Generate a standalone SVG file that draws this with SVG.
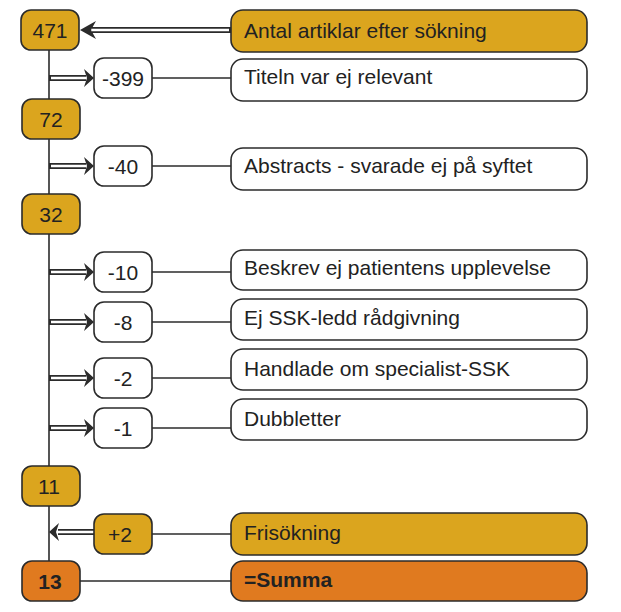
<svg xmlns="http://www.w3.org/2000/svg" width="621" height="612" viewBox="0 0 621 612">
<style>
.b{stroke:#2b2b2b;stroke-width:1.6}
.g{fill:#DBA51E}.o{fill:#E07A1F}.w{fill:#fff}
text{font-family:"Liberation Sans",Arial,sans-serif;font-size:21px;fill:#222}
.c{text-anchor:middle}
.l{stroke:#2b2b2b;stroke-width:1.6;fill:none}
.d1{stroke:#2b2b2b;stroke-width:6;fill:none}
.d2{stroke:#fff;stroke-width:2.5;fill:none}
.ah{fill:#2b2b2b}
</style>
<g id="connectors">
<line class="l" x1="49" y1="50" x2="49" y2="562"/>
<line class="l" x1="152" y1="78" x2="231" y2="78"/>
<line class="l" x1="152" y1="166" x2="231" y2="166"/>
<line class="l" x1="152" y1="272" x2="231" y2="272"/>
<line class="l" x1="152" y1="322" x2="231" y2="322"/>
<line class="l" x1="152" y1="378" x2="231" y2="378"/>
<line class="l" x1="152" y1="428" x2="231" y2="428"/>
<line class="l" x1="152" y1="534" x2="231" y2="534"/>
<line class="l" x1="80" y1="581" x2="231" y2="581"/>
<g id="arrows">
<path class="d1" d="M231 30H92"/><path class="d2" d="M229 30H92"/><polygon class="ah" points="80,30 96,21 91,30 96,39"/>
<path class="d1" d="M49 78H86"/><path class="d2" d="M51 78H86"/><polygon class="ah" points="94,78 84,69 87,78 84,87"/>
<path class="d1" d="M49 166H86"/><path class="d2" d="M51 166H86"/><polygon class="ah" points="94,166 84,157 87,166 84,175"/>
<path class="d1" d="M49 272H86"/><path class="d2" d="M51 272H86"/><polygon class="ah" points="94,272 84,263 87,272 84,281"/>
<path class="d1" d="M49 322H86"/><path class="d2" d="M51 322H86"/><polygon class="ah" points="94,322 84,313 87,322 84,331"/>
<path class="d1" d="M49 378H86"/><path class="d2" d="M51 378H86"/><polygon class="ah" points="94,378 84,369 87,378 84,387"/>
<path class="d1" d="M49 428H86"/><path class="d2" d="M51 428H86"/><polygon class="ah" points="94,428 84,419 87,428 84,437"/>
<path class="d1" d="M94 532H58"/><path class="d2" d="M94 532H58"/><polygon class="ah" points="49,532 59,523 56,532 59,541"/>
</g>
</g>
<g id="n471"><rect class="b g" x="21" y="10" width="58" height="40" rx="10"/><text class="c" x="50" y="38">471</text></g>
<g id="n72"><rect class="b g" x="22" y="99" width="58" height="40" rx="10"/><text class="c" x="51" y="127">72</text></g>
<g id="n32"><rect class="b g" x="22" y="194" width="58" height="40" rx="10"/><text class="c" x="51" y="222">32</text></g>
<g id="n11"><rect class="b g" x="22" y="466" width="58" height="40" rx="10"/><text class="c" x="49" y="494">11</text></g>
<g id="n13"><rect class="b o" x="22" y="561" width="58" height="40" rx="10"/><text class="c" x="50" y="589" font-weight="bold">13</text></g>
<g id="m399"><rect class="b w" x="94" y="58" width="58" height="40" rx="10"/><text class="c" x="123" y="86">-399</text></g>
<g id="m40"><rect class="b w" x="94" y="146" width="58" height="40" rx="10"/><text class="c" x="123" y="174">-40</text></g>
<g id="m10"><rect class="b w" x="94" y="252" width="58" height="40" rx="10"/><text class="c" x="123" y="280">-10</text></g>
<g id="m8"><rect class="b w" x="94" y="302" width="58" height="40" rx="10"/><text class="c" x="123" y="330">-8</text></g>
<g id="m2"><rect class="b w" x="94" y="358" width="58" height="40" rx="10"/><text class="c" x="123" y="386">-2</text></g>
<g id="m1"><rect class="b w" x="94" y="408" width="58" height="40" rx="10"/><text class="c" x="123" y="436">-1</text></g>
<g id="p2"><rect class="b g" x="94" y="514" width="58" height="40" rx="10"/><text class="c" x="120" y="542">+2</text></g>
<g id="t1"><rect class="b g" x="231" y="10" width="356" height="42" rx="12"/><text x="244" y="38">Antal artiklar efter sökning</text></g>
<g id="t2"><rect class="b w" x="231" y="59" width="356" height="42" rx="12"/><text x="244" y="84">Titeln var ej relevant</text></g>
<g id="t3"><rect class="b w" x="231" y="148" width="356" height="42" rx="12"/><text x="244" y="173">Abstracts - svarade ej på syftet</text></g>
<g id="t4"><rect class="b w" x="231" y="250" width="356" height="40" rx="12"/><text x="244" y="275">Beskrev ej patientens upplevelse</text></g>
<g id="t5"><rect class="b w" x="231" y="299" width="356" height="41" rx="12"/><text x="244" y="325">Ej SSK-ledd rådgivning</text></g>
<g id="t6"><rect class="b w" x="231" y="349" width="356" height="41" rx="12"/><text x="244" y="376">Handlade om specialist-SSK</text></g>
<g id="t7"><rect class="b w" x="231" y="399" width="356" height="41" rx="12"/><text x="244" y="426">Dubbletter</text></g>
<g id="t8"><rect class="b g" x="231" y="513" width="356" height="42" rx="12"/><text x="244" y="540">Frisökning</text></g>
<g id="t9"><rect class="b o" x="231" y="561" width="356" height="40" rx="12"/><text x="244" y="587" font-weight="bold">=Summa</text></g>
</svg>
